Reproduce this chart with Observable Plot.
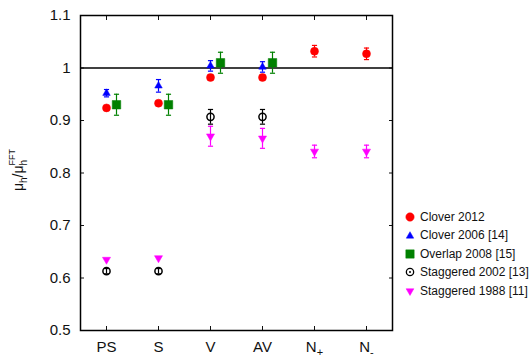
<!DOCTYPE html>
<html><head><meta charset="utf-8">
<script src="https://cdn.jsdelivr.net/npm/d3@7"></script>
<script src="https://cdn.jsdelivr.net/npm/@observablehq/plot@0.6"></script>
<style>
body{margin:0;background:#fff;font-family:"Liberation Sans",Arial,sans-serif;}
#wrap{position:relative;width:530px;height:357px;}
#legend{position:absolute;left:405px;top:208px;font-size:12px;line-height:18.4px;color:#111;}
#legend .row{display:flex;align-items:center;white-space:nowrap;height:18.4px}
#legend svg{margin-right:5px;overflow:visible}
</style></head><body><div id="wrap"></div>
<script>
const categories = ["PS", "S", "V", "AV", "N+", "N-"];
const yTicks = [0.5, 0.6, 0.7, 0.8, 0.9, 1.0, 1.1];
const seriesNames = ["Clover 2012", "Clover 2006 [14]", "Overlap 2008 [15]", "Staggered 2002 [13]", "Staggered 1988 [11]"];

const clover2012Cat = ["PS", "S", "V", "AV", "N+", "N-"];
const clover2012Val = [0.924, 0.933, 0.982, 0.982, 1.032, 1.027];
const clover2012Err = [0.004, 0.004, 0.005, 0.005, 0.011, 0.011];

const clover2006Cat = ["PS", "S", "V", "AV"];
const clover2006Val = [0.952, 0.966, 1.004, 1.002];
const clover2006Err = [0.007, 0.012, 0.010, 0.010];

const overlap2008Cat = ["PS", "S", "V", "AV"];
const overlap2008Val = [0.930, 0.930, 1.010, 1.010];
const overlap2008Err = [0.020, 0.020, 0.020, 0.020];

const stag2002Cat = ["PS", "S", "V", "AV"];
const stag2002Val = [0.613, 0.613, 0.907, 0.907];
const stag2002Err = [0.005, 0.005, 0.014, 0.014];

const stag1988Cat = ["PS", "S", "V", "AV", "N+", "N-"];
const stag1988Val = [0.635, 0.638, 0.870, 0.866, 0.841, 0.841];
const stag1988Err = [0.0, 0.0, 0.019, 0.019, 0.012, 0.012];

const rows = (cats, vals, errs) => cats.map((c, i) => ({x: c, y: vals[i], lo: vals[i] - errs[i], hi: vals[i] + errs[i], e: errs[i]}));

const triangleDown = {
  draw(ctx, size) {
    const y = -Math.sqrt(size / (Math.sqrt(3) * 3));
    ctx.moveTo(0, -y * 2);
    ctx.lineTo(-Math.sqrt(3) * y, y);
    ctx.lineTo(Math.sqrt(3) * y, y);
    ctx.closePath();
  }
};
const capSymbol = {
  draw(ctx, size) {
    const w = Math.sqrt(size) / 2;
    ctx.moveTo(-w, 0);
    ctx.lineTo(w, 0);
  }
};

const series = [
  {data: rows(clover2012Cat, clover2012Val, clover2012Err), color: "#ff0000", symbol: "circle", r: 4, dx: 0, fill: true},
  {data: rows(clover2006Cat, clover2006Val, clover2006Err), color: "#0000ff", symbol: "triangle", r: 2.8, dx: 0, fill: true},
  {data: rows(overlap2008Cat, overlap2008Val, overlap2008Err), color: "#008000", symbol: "square", r: 4.8, dx: 10, fill: true},
  {data: rows(stag2002Cat, stag2002Val, stag2002Err), color: "#000000", symbol: "circle", r: 3.6, dx: 0, fill: false},
  {data: rows(stag1988Cat, stag1988Val, stag1988Err), color: "#ff00ff", symbol: triangleDown, r: 3.0, dx: 0, fill: true}
];

const marks = [
  Plot.ruleY([1], {stroke: "#000", strokeWidth: 1.3}),
];
for (const s of series) {
  const eb = s.data.filter(d => d.e > 0);
  marks.push(Plot.ruleX(eb, {x: "x", y1: "lo", y2: "hi", stroke: s.color, strokeWidth: 1.2, dx: s.dx}));
  marks.push(Plot.dot(eb, {x: "x", y: "lo", symbol: () => capSymbol, r: 2.9, fill: "none", stroke: s.color, strokeWidth: 1.2, dx: s.dx}));
  marks.push(Plot.dot(eb, {x: "x", y: "hi", symbol: () => capSymbol, r: 2.9, fill: "none", stroke: s.color, strokeWidth: 1.2, dx: s.dx}));
  marks.push(Plot.dot(s.data, {x: "x", y: "y", symbol: () => s.symbol, r: s.r, dx: s.dx,
    fill: s.fill ? s.color : "none", stroke: s.color, strokeWidth: s.fill ? 0.5 : 1.5}));
}
marks.push(
  Plot.axisY({ticks: yTicks, tickSize: -4, tickPadding: 14, fontSize: 15, label: null, tickFormat: d => d === 1 ? "1" : d.toFixed(1)}),
  Plot.axisY({anchor: "right", ticks: yTicks, tickSize: -4, label: null, tickFormat: () => ""}),
  Plot.axisX({tickSize: -4, tickPadding: 15, fontSize: 15, label: null}),
  Plot.axisX({anchor: "top", tickSize: -4, label: null, tickFormat: () => ""}),
  Plot.frame({stroke: "#000", strokeWidth: 1.5})
);

const chart = Plot.plot({
  width: 530, height: 357,
  marginLeft: 80, marginRight: 138, marginTop: 15, marginBottom: 27,
  style: {fontFamily: "'Liberation Sans', Arial, sans-serif", color: "#111", background: "#fff"},
  x: {type: "point", domain: categories, padding: 0.5},
  y: {domain: [0.5, 1.1]},
  symbol: {type: "identity"},
  marks
});
document.getElementById("wrap").appendChild(chart);

// subscripts on N+ / N-
d3.select(chart).selectAll("text").each(function() {
  const t = d3.select(this);
  const s = t.text();
  if (s === "N+" || s === "N-") {
    t.text("N");
    t.append("tspan").attr("dy", "0.35em").attr("font-size", 11).text(s[1]);
  }
});

// y-axis label
const lab = d3.select(chart).append("text")
  .attr("transform", "translate(23,170) rotate(-90)")
  .attr("text-anchor", "middle").attr("font-size", 14).attr("fill", "#111");
lab.append("tspan").text("μ");
lab.append("tspan").attr("dy", 4).attr("font-size", 10).text("h");
lab.append("tspan").attr("dy", -4).text("/μ");
lab.append("tspan").attr("dy", 4).attr("font-size", 10).text("h");
lab.append("tspan").attr("dx", -5.5).attr("dy", -12).attr("font-size", 9).text("FFT");

// legend
const legend = d3.select("#wrap").append("div").attr("id", "legend");
series.forEach((s, i) => {
  const row = legend.append("div").attr("class", "row");
  const sv = row.append("svg").attr("width", 10).attr("height", 10).attr("viewBox", "-5 -5 10 10");
  const sym = typeof s.symbol === "string" ? d3.symbol(s.symbol === "circle" ? d3.symbolCircle : s.symbol === "triangle" ? d3.symbolTriangle : d3.symbolSquare) : d3.symbol(s.symbol);
  const size = s.symbol === "triangle" ? 24 : s.symbol === "square" ? 70 : s.symbol === triangleDown ? 26 : s.fill ? 55 : 42;
  sv.append("path").attr("d", sym.size(size)()).attr("fill", s.fill ? s.color : "none").attr("stroke", s.color).attr("stroke-width", s.fill ? 0.5 : 1.3);
  if (!s.fill) sv.append("circle").attr("r", 1).attr("fill", "#000");
  row.append("span").text(seriesNames[i]);
});
</script></body></html>
